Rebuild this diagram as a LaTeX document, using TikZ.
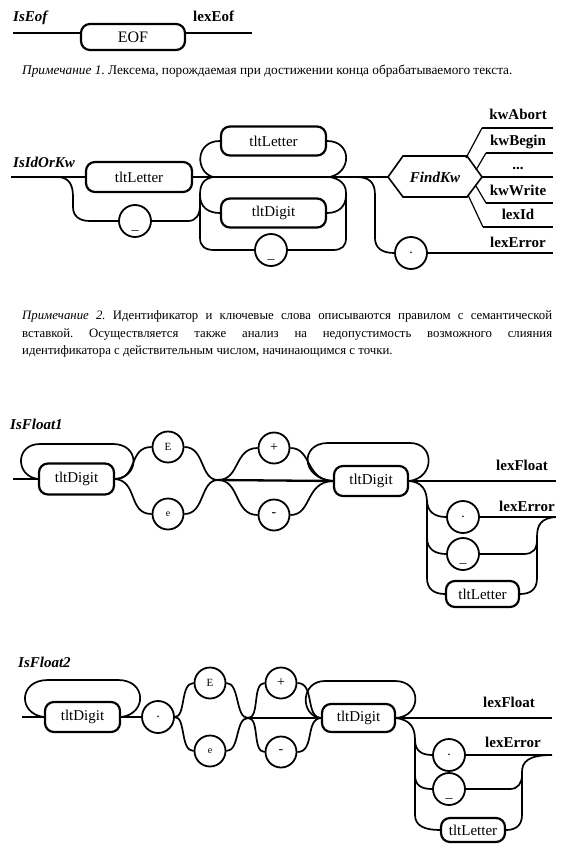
\documentclass[tikz,border=0pt]{standalone}
\usepackage{fontspec}
\setmainfont{Liberation Serif}
\frenchspacing
\begin{document}
\begin{tikzpicture}[x=1pt,y=-1pt,
  rail/.style={line width=2.3pt},
  crv/.style={line width=1.7pt},
  thinln/.style={line width=1.2pt},
  tbox/.style={draw, line width=2.2pt, rounded corners=9pt, inner sep=0pt, font=\fontsize{15}{15}\selectfont},
  tcirc/.style={draw, circle, line width=1.8pt, minimum size=32pt, inner sep=0pt, font=\fontsize{14}{14}\selectfont},
  ucirc/.style={tcirc, text height=16pt, text depth=0pt},
  rname/.style={font=\fontsize{15}{15}\selectfont\bfseries\itshape, anchor=base west, inner sep=0pt},
  lex/.style={font=\fontsize{15}{15}\selectfont\bfseries, anchor=base, inner sep=0pt},
  note/.style={font=\fontsize{13.3}{13.3}\selectfont, anchor=base west, inner sep=0pt},
  noteb/.style={font=\fontsize{12.8}{12.8}\selectfont, anchor=base west, inner sep=0pt},
]
\useasboundingbox (0,0) rectangle (569,856);

% ---------------- IsEof
\node[rname] (nEof) at (13,22) {IsEof};
\node[lex, anchor=base west] (lEof) at (193,22) {lexEof};
\node[tbox, minimum width=104pt, minimum height=26pt, font=\fontsize{16}{16}\selectfont] (eof) at (133,37) {EOF};
\coordinate (e0) at (13,33);
\coordinate (e1) at (252,33);
\draw[rail] (e0) -- (eof.west |- e0);
\draw[rail] (eof.east |- e1) -- (e1);
\node[note] (n1) at (22,75) {\textit{Примечание 1}. Лексема, порождаемая при достижении конца обрабатываемого текста.};

% ---------------- IsIdOrKw
\node[rname] (nId) at (13,167) {IsIdOrKw};
\coordinate (a0) at (11,177);
\node[tbox, minimum width=106pt, minimum height=30pt] (L1) at (139,177) {tltLetter};
\node[ucirc] (u1) at (135,221) {\_};
\node[tbox, minimum width=105pt, minimum height=29pt] (L2) at (273.5,141) {tltLetter};
\node[tbox, minimum width=105pt, minimum height=29pt] (D2) at (273.5,213) {tltDigit};
\node[ucirc] (u2) at (271,250) {\_};
\node[tcirc] (dot1) at (411,253) {.};
\coordinate (hL) at (388,177);
\coordinate (hTL) at (403,156);
\coordinate (hTR) at (467,156);
\coordinate (hR) at (482,177);
\coordinate (hBR) at (467,197);
\coordinate (hBL) at (403,197);
\draw[line width=1.6pt] (hL) -- (hTL) -- (hTR) -- (hR) -- (hBR) -- (hBL) -- cycle;
\node[font=\fontsize{15}{15}\selectfont\bfseries\itshape, inner sep=0pt] (fk) at (435,177) {FindKw};

\draw[rail] (a0) -- (L1.west);
\draw[rail] (L1.east) -- (hL);
\draw[crv] (57,177) .. controls (70,177) and (73,186) .. (73,197) -- (73,207) .. controls (73,216) and (79,221) .. (90,221) -- (u1.west);
\draw[crv] (u1.east) -- (188,221) .. controls (196,221) and (200,215) .. (200,205);
% lower loop
\draw[crv] (213,177) .. controls (203,179) and (200,185) .. (200,195) -- (200,238) .. controls (200,246) and (205,250) .. (214,250) -- (u2.west);
\draw[crv] (u2.east) -- (333,250) .. controls (342,250) and (346,246) .. (346,238) -- (346,193) .. controls (346,184) and (340,179) .. (330,177);
\draw[crv] (200,195) .. controls (200,207) and (208,213) .. (D2.west);
\draw[crv] (D2.east) .. controls (338,213) and (346,207) .. (346,195);
% upper loop
\draw[crv] (213,177) .. controls (195,172) and (195,141) .. (L2.west);
\draw[crv] (L2.east) .. controls (352,141) and (352,172) .. (330,177);
% error branch
\draw[crv] (356,177) .. controls (370,177) and (375,183) .. (375,195) -- (375,238) .. controls (375,248) and (382,253) .. (dot1.west);
\draw[rail] (dot1.east) -- (553,253);
% outputs
\draw[thinln] (466,158) -- (482,128);
\draw[rail] (482,128) -- (553,128);
\draw[thinln] (476,170) -- (486,153);
\draw[rail] (486,153) -- (553,153);
\draw[rail] (hR) -- (553,177);
\draw[thinln] (476,186) -- (486,203);
\draw[rail] (486,203) -- (553,203);
\draw[thinln] (468,195) -- (483,227);
\draw[rail] (483,227) -- (553,227);
\node[lex] (kA) at (518,120) {kwAbort};
\node[lex] (kB) at (518,145) {kwBegin};
\node[lex] (kD) at (518,169) {...};
\node[lex] (kW) at (518,195) {kwWrite};
\node[lex] (kI) at (518,219) {lexId};
\node[lex] (kE) at (518,247) {lexError};

% ---------------- Note 2
\node[noteb] (n2a) at (22,319) {\makebox[530pt][s]{\textit{Примечание 2.} Идентификатор и ключевые слова описываются правилом с семантической}};
\node[noteb] (n2b) at (22,337) {\makebox[530pt][s]{вставкой. Осуществляется также анализ на недопустимость возможного слияния}};
\node[noteb] (n2c) at (22,354) {идентификатора с действительным числом, начинающимся с точки.};

% ---------------- IsFloat1
\node[rname] (nF1) at (10,429) {IsFloat1};
\node[tbox, minimum width=75pt, minimum height=31pt] (F1D1) at (76.5,479) {tltDigit};
\node[tcirc, minimum size=31pt, font=\fontsize{11}{11}\selectfont] (F1E) at (168,447) {E};
\node[tcirc, minimum size=31pt, font=\fontsize{10}{10}\selectfont] (F1e) at (168,514) {e};
\node[tcirc, minimum size=31pt] (F1p) at (274,448) {+};
\node[tcirc, minimum size=31pt] (F1m) at (274,515) {-};
\node[tbox, minimum width=74pt, minimum height=30pt] (F1D2) at (371,481) {tltDigit};
\node[tcirc] (F1dot) at (463,517) {.};
\node[ucirc] (F1u) at (463,554) {\_};
\node[tbox, minimum width=73pt, minimum height=26pt] (F1L) at (482.5,594) {tltLetter};
\coordinate (f1in) at (13,479);
\coordinate (j1) at (218,480);
\draw[rail] (f1in) -- (F1D1.west);
\draw[crv] (F1D1.west) .. controls (15,476) and (15,444) .. (40,444) -- (113,444) .. controls (140,444) and (140,477) .. (F1D1.east);
\draw[crv] (F1D1.east) .. controls (138,479) and (128,447) .. (F1E.west);
\draw[crv] (F1D1.east) .. controls (138,481) and (128,514) .. (F1e.west);
\draw[crv] (F1E.east) .. controls (205,447) and (200,480) .. (j1);
\draw[crv] (F1e.east) .. controls (205,514) and (200,480) .. (j1);
\draw[rail] (j1) -- (F1D2.west);
\draw[crv] (j1) .. controls (240,480) and (234,448) .. (F1p.west);
\draw[crv] (j1) .. controls (240,480) and (234,515) .. (F1m.west);
\draw[crv] (F1p.east) .. controls (312,448) and (305,480) .. (F1D2.west);
\draw[crv] (F1m.east) .. controls (312,515) and (305,482) .. (F1D2.west);
\draw[crv] (F1D2.west) .. controls (300,478) and (300,443) .. (328,443) -- (410,443) .. controls (435,443) and (435,478) .. (F1D2.east);
\draw[rail] (F1D2.east) -- (556,481);
\draw[crv] (F1D2.east) .. controls (422,482) and (427,490) .. (427,503) -- (427,578) .. controls (427,589) and (434,594) .. (F1L.west);
\draw[crv] (427,500) .. controls (427,512) and (435,517) .. (F1dot.west);
\draw[crv] (427,538) .. controls (427,549) and (435,554) .. (F1u.west);
\draw[rail] (F1dot.east) -- (556,517);
\draw[crv] (556,517) .. controls (541,518) and (537,525) .. (537,537) -- (537,578) .. controls (537,589) and (531,594) .. (F1L.east);
\draw[crv] (F1u.east) -- (524,554) .. controls (533,554) and (537,549) .. (537,540);
\node[lex] (F1lf) at (522,470) {lexFloat};
\node[lex] (F1le) at (527,511) {lexError};

% ---------------- IsFloat2
\node[rname] (nF2) at (18,667) {IsFloat2};
\node[tbox, minimum width=75pt, minimum height=30pt] (F2D1) at (82.5,717) {tltDigit};
\node[tcirc] (F2dot0) at (158,717) {.};
\node[tcirc, minimum size=31pt, font=\fontsize{11}{11}\selectfont] (F2E) at (210,683) {E};
\node[tcirc, minimum size=31pt, font=\fontsize{10}{10}\selectfont] (F2e) at (210,751) {e};
\node[tcirc, minimum size=31pt] (F2p) at (281,683) {+};
\node[tcirc, minimum size=31pt] (F2m) at (281,752) {-};
\node[tbox, minimum width=73pt, minimum height=28pt] (F2D2) at (358.5,718) {tltDigit};
\node[tcirc] (F2dot) at (449,755) {.};
\node[ucirc] (F2u) at (449,789) {\_};
\node[tbox, minimum width=64pt, minimum height=24pt] (F2L) at (473,830) {tltLetter};
\coordinate (f2in) at (22,717);
\coordinate (j2) at (248,718);
\draw[rail] (f2in) -- (F2D1.west);
\draw[crv] (F2D1.west) .. controls (18,714) and (18,680) .. (48,680) -- (118,680) .. controls (147,680) and (147,714) .. (F2D1.east);
\draw[rail] (F2D1.east) -- (F2dot0.west);
\draw[crv] (F2dot0.east) .. controls (186,717) and (180,683) .. (F2E.west);
\draw[crv] (F2dot0.east) .. controls (186,717) and (180,751) .. (F2e.west);
\draw[crv] (F2E.east) .. controls (240,683) and (235,718) .. (j2);
\draw[crv] (F2e.east) .. controls (240,751) and (235,718) .. (j2);
\draw[rail] (j2) -- (F2D2.west);
\draw[crv] (j2) .. controls (260,718) and (252,683) .. (F2p.west);
\draw[crv] (j2) .. controls (260,718) and (252,752) .. (F2m.west);
\draw[crv] (F2p.east) .. controls (315,683) and (305,717) .. (F2D2.west);
\draw[crv] (F2m.east) .. controls (315,752) and (305,719) .. (F2D2.west);
\draw[crv] (F2D2.west) .. controls (300,716) and (300,681) .. (325,681) -- (395,681) .. controls (422,681) and (422,716) .. (F2D2.east);
\draw[rail] (F2D2.east) -- (552,718);
\draw[crv] (F2D2.east) .. controls (410,720) and (415,727) .. (415,740) -- (415,815) .. controls (415,826) and (425,830) .. (F2L.west);
\draw[crv] (415,740) .. controls (415,751) and (422,755) .. (F2dot.west);
\draw[crv] (415,775) .. controls (415,786) and (422,789) .. (F2u.west);
\draw[rail] (F2dot.east) -- (552,755);
\draw[crv] (552,755) .. controls (528,755) and (522,762) .. (522,772) -- (522,815) .. controls (522,826) and (515,830) .. (F2L.east);
\draw[crv] (F2u.east) -- (510,789) .. controls (518,789) and (522,783) .. (522,775);
\node[lex] (F2lf) at (509,707) {lexFloat};
\node[lex] (F2le) at (513,747) {lexError};
\end{tikzpicture}
\end{document}
